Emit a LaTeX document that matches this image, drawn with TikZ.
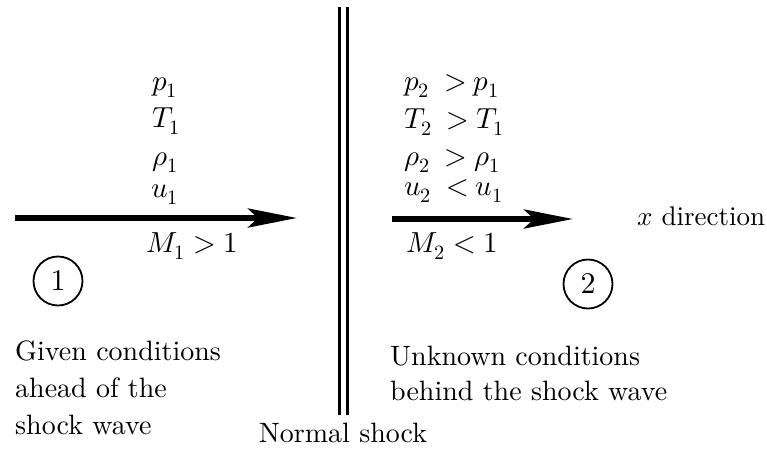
\documentclass[tikz,border=0pt]{standalone}
\usepackage{unicode-math}
\setmainfont{lmroman10-regular}[Extension=.otf, ItalicFont=lmroman10-italic]
\setmathfont{Latin Modern Math}
\usetikzlibrary{arrows.meta}
\begin{document}
\begin{tikzpicture}[x=1pt,y=-1pt,
  lbl/.style={inner sep=0pt,font=\fontsize{29}{34}\selectfont},
  txt/.style={inner sep=0pt,align=left,font=\fontsize{28}{37}\selectfont},
  flow/.style={line width=5.5pt,-{Stealth[length=49pt,width=19pt,inset=10pt]}},
  shockline/.style={line width=3pt},
  station/.style={circle,draw,line width=1.8pt,minimum size=49pt,inner sep=0pt,font=\fontsize{30}{30}\selectfont}
]
\useasboundingbox (0,0) rectangle (767,450);
% left stack
\node[lbl,anchor=base] (p1) at (165,90) {$p_1$};
\node[lbl,anchor=base] (T1) at (166,127) {$T_1$};
\node[lbl,anchor=base] (r1) at (165,165) {$\rho_1$};
\node[lbl,anchor=base] (u1) at (165,197) {$u_1$};
\node[lbl,anchor=base west] (M1) at (146,252) {$M_1 > 1$};
% right stack
\node[lbl,anchor=base west] (p2) at (404,90) {$p_2\hspace{15pt}{>}\hspace{7pt}p_1$};
\node[lbl,anchor=base west] (T2) at (404,128) {$T_2\hspace{15pt}{>}\hspace{7pt}T_1$};
\node[lbl,anchor=base west] (r2) at (404,165) {$\rho_2\hspace{15pt}{>}\hspace{7pt}\rho_1$};
\node[lbl,anchor=base west] (u2) at (404,195) {$u_2\hspace{15pt}{<}\hspace{7pt}u_1$};
\node[lbl,anchor=base west] (M2) at (406,252) {$M_2 < 1$};
% arrows
\coordinate (a1s) at (15,218);
\coordinate (a1e) at (297,218);
\coordinate (a2s) at (392,219);
\coordinate (a2e) at (573,219);
\draw[flow] (a1s) -- (a1e);
\draw[flow] (a2s) -- (a2e);
\node[txt,anchor=base west,font=\fontsize{27}{30}\selectfont] (xdir) at (637,225) {$x$ direction};
% shock
\coordinate (s1t) at (339.5,7);
\coordinate (s1b) at (339.5,415);
\coordinate (s2t) at (347.5,7);
\coordinate (s2b) at (347.5,415);
\draw[shockline] (s1t) -- (s1b);
\draw[shockline] (s2t) -- (s2b);
\node[txt,anchor=base] (ns) at (343,442) {Normal shock};
% stations
\node[station] (c1) at (58,281) {1};
\node[station] (c2) at (588,284) {2};
% descriptions
\node[txt,anchor=north west] (given) at (15,340.5) {Given conditions\\ahead of the\\shock wave};
\node[txt,anchor=north west,font=\fontsize{28}{35}\selectfont] (unk) at (390,345.5) {Unknown conditions\\behind the shock wave};
\end{tikzpicture}
\end{document}
